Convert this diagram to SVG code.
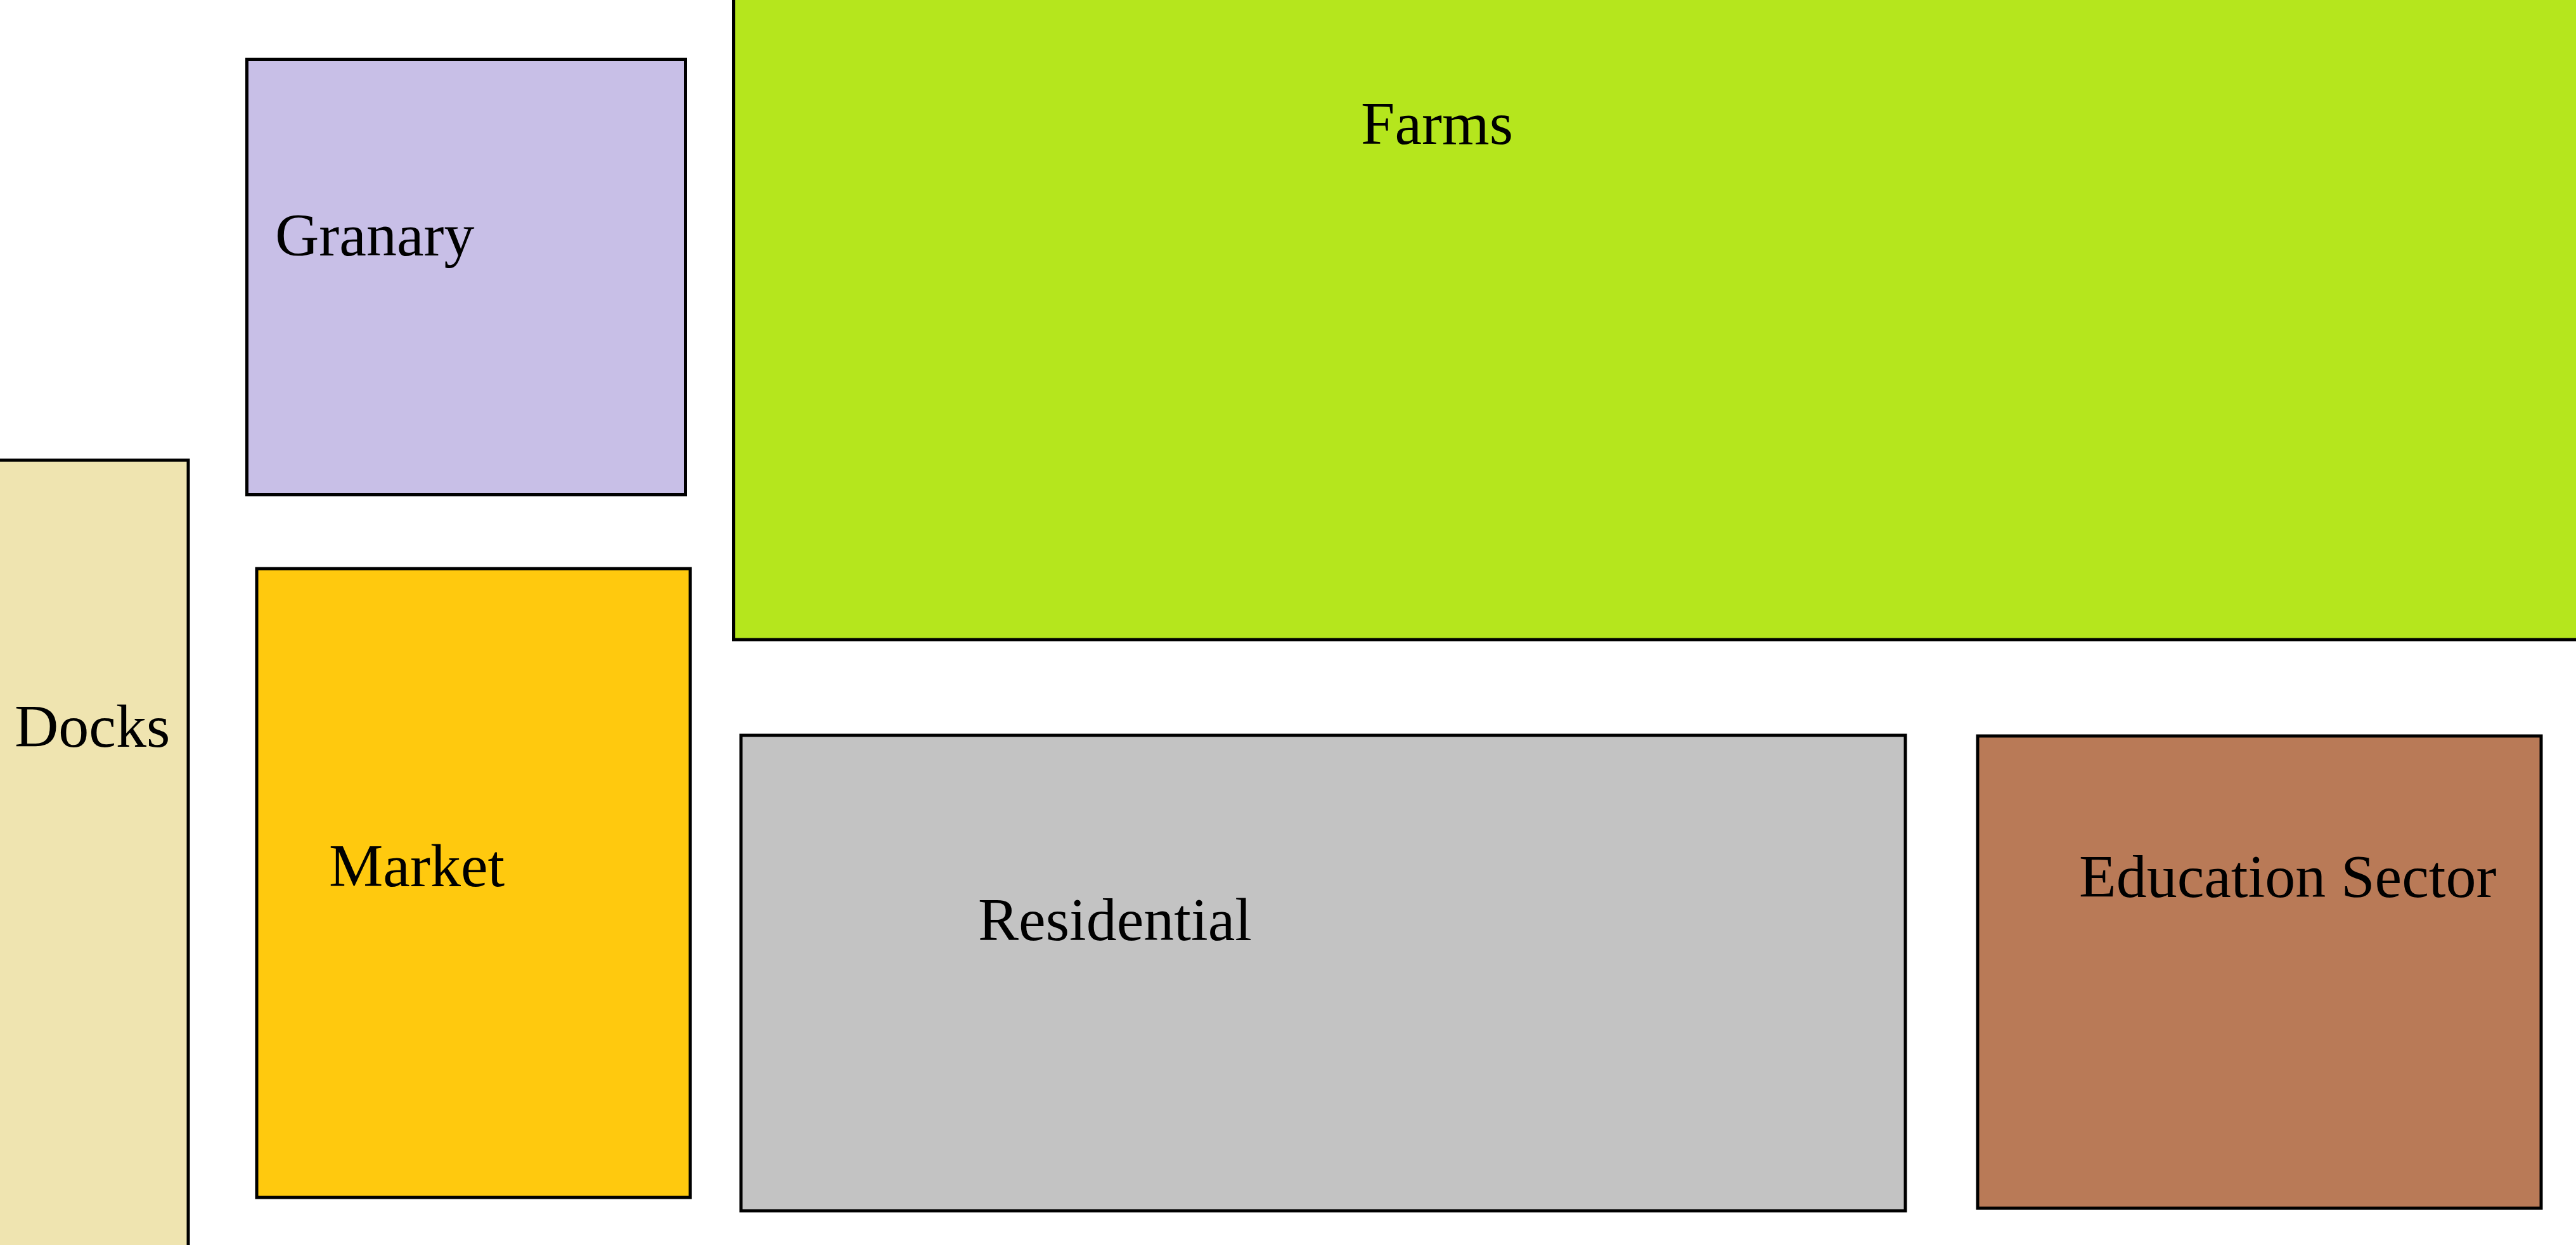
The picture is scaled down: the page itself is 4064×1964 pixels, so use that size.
<svg xmlns="http://www.w3.org/2000/svg" width="4064" height="1964" viewBox="0 0 4064 1964">
<style>
rect.n{stroke:#000;stroke-width:5}
text{font-family:"Liberation Serif","Times New Roman",serif;font-size:96px;fill:#000}
</style>
<rect x="0" y="0" width="4064" height="1964" fill="#ffffff"/>
<g id="farms"><rect class="n" x="1157.5" y="-10" width="3000" height="1019" fill="#B5E61D"/><text x="2147" y="227">Farms</text></g>
<g id="granary"><rect class="n" x="389.5" y="93.5" width="692" height="687" fill="#C8BFE7"/><text x="434" y="403">Granary</text></g>
<g id="docks"><rect class="n" x="-10" y="726" width="307" height="1300" fill="#EFE4B0"/><text x="23" y="1178">Docks</text></g>
<g id="market"><rect class="n" x="405" y="897" width="684" height="992" fill="#FFC90E"/><text x="519" y="1398">Market</text></g>
<g id="residential"><rect class="n" x="1169" y="1160" width="1837" height="750" fill="#C3C3C3"/><text x="1543" y="1483">Residential</text></g>
<g id="education"><rect class="n" x="3120" y="1161" width="889" height="745" fill="#B97A57"/><text x="3280" y="1415">Education Sector</text></g>
<g id="connectors"></g>
</svg>
